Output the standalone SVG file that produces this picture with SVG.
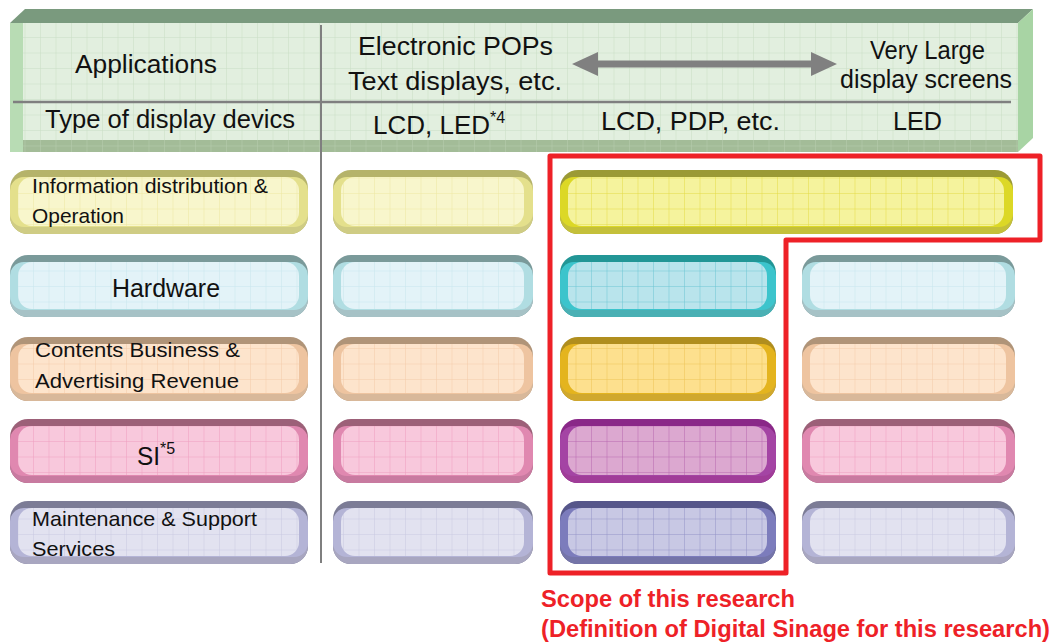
<svg xmlns="http://www.w3.org/2000/svg" width="1055" height="643" viewBox="0 0 1055 643">
<style>
text{font-family:"Liberation Sans",Arial,sans-serif;fill:#111}
.h{font-size:25px}
.n{font-size:21px}
.red{font-family:"Liberation Sans",Arial,sans-serif;font-weight:bold;font-size:23.5px;fill:#ee2127}
.r1L .t{fill:#b5b36a}.r1L .b{fill:#cfcc84}.r1L .s{fill:#e4e08c}
.r1S .t{fill:#9b9a35}.r1S .b{fill:#c4c03a}.r1S .s{fill:#dcd826}
.r2L .t{fill:#7a9a9a}.r2L .b{fill:#a6c2c6}.r2L .s{fill:#b0dde2}
.r2S .t{fill:#229696}.r2S .b{fill:#4ab0b4}.r2S .s{fill:#3cc4cc}
.r3L .t{fill:#b09478}.r3L .b{fill:#d8b89a}.r3L .s{fill:#eec4a0}
.r3S .t{fill:#b08e1e}.r3S .b{fill:#d0a82e}.r3S .s{fill:#e4b41e}
.r4L .t{fill:#9c6078}.r4L .b{fill:#c87aa0}.r4L .s{fill:#e088b0}
.r4S .t{fill:#8a2888}.r4S .b{fill:#a03c98}.r4S .s{fill:#a444a4}
.r5L .t{fill:#7c7c96}.r5L .b{fill:#a8a6c0}.r5L .s{fill:#b4b4d6}
.r5S .t{fill:#56568a}.r5S .b{fill:#7474a8}.r5S .s{fill:#7c7cbc}
</style>
<defs>
<pattern id="pH" patternUnits="userSpaceOnUse" x="9" y="6" width="15.5" height="15.5"><rect width="15.5" height="15.5" fill="#e2efdf"/><path d="M0 0V15.5M0 0H15.5" stroke="#c9dec5" stroke-width="1"/></pattern>
<pattern id="pHb" patternUnits="userSpaceOnUse" x="9" y="6" width="15.5" height="15.5"><rect width="15.5" height="15.5" fill="#a3bc98"/><path d="M0 0V15.5M0 0H15.5" stroke="#b8ceb0" stroke-width="1"/></pattern>
<pattern id="p1L" patternUnits="userSpaceOnUse" x="2" y="7" width="15.5" height="15.5"><rect width="15.5" height="15.5" fill="#f8f6cc"/><path d="M0 0V15.5M0 0H15.5" stroke="#eee8a2" stroke-width="1"/></pattern>
<pattern id="p1S" patternUnits="userSpaceOnUse" x="2" y="7" width="15.5" height="15.5"><rect width="15.5" height="15.5" fill="#f5f39d"/><path d="M0 0V15.5M0 0H15.5" stroke="#e4dc45" stroke-width="1"/></pattern>
<pattern id="p2L" patternUnits="userSpaceOnUse" x="2" y="7" width="15.5" height="15.5"><rect width="15.5" height="15.5" fill="#e3f3f8"/><path d="M0 0V15.5M0 0H15.5" stroke="#c8e6ee" stroke-width="1"/></pattern>
<pattern id="p2S" patternUnits="userSpaceOnUse" x="2" y="7" width="15.5" height="15.5"><rect width="15.5" height="15.5" fill="#b9e4ec"/><path d="M0 0V15.5M0 0H15.5" stroke="#6cc6d4" stroke-width="1"/></pattern>
<pattern id="p3L" patternUnits="userSpaceOnUse" x="2" y="7" width="15.5" height="15.5"><rect width="15.5" height="15.5" fill="#fde4cc"/><path d="M0 0V15.5M0 0H15.5" stroke="#f4ccaa" stroke-width="1"/></pattern>
<pattern id="p3S" patternUnits="userSpaceOnUse" x="2" y="7" width="15.5" height="15.5"><rect width="15.5" height="15.5" fill="#fde08e"/><path d="M0 0V15.5M0 0H15.5" stroke="#eec456" stroke-width="1"/></pattern>
<pattern id="p4L" patternUnits="userSpaceOnUse" x="2" y="7" width="15.5" height="15.5"><rect width="15.5" height="15.5" fill="#f8c8dc"/><path d="M0 0V15.5M0 0H15.5" stroke="#ef9ec0" stroke-width="1"/></pattern>
<pattern id="p4S" patternUnits="userSpaceOnUse" x="2" y="7" width="15.5" height="15.5"><rect width="15.5" height="15.5" fill="#dca8d0"/><path d="M0 0V15.5M0 0H15.5" stroke="#b866b0" stroke-width="1"/></pattern>
<pattern id="p5L" patternUnits="userSpaceOnUse" x="2" y="7" width="15.5" height="15.5"><rect width="15.5" height="15.5" fill="#e2e2f0"/><path d="M0 0V15.5M0 0H15.5" stroke="#cacae2" stroke-width="1"/></pattern>
<pattern id="p5S" patternUnits="userSpaceOnUse" x="2" y="7" width="15.5" height="15.5"><rect width="15.5" height="15.5" fill="#c8c8e4"/><path d="M0 0V15.5M0 0H15.5" stroke="#9494c8" stroke-width="1"/></pattern>
</defs>

<g id="header">
<polygon points="10,23 25,9 1033,9 1018,23" fill="#7a9a7e"/>
<polygon points="1018,23 1033,9 1033,138 1018,152" fill="#a8d4a4"/>
<rect x="10" y="140" width="1008" height="12" fill="url(#pHb)"/>
<rect x="23" y="23" width="995" height="117" fill="url(#pH)"/>
<rect x="10" y="23" width="13" height="129" fill="#b8dcb4"/>
<line x1="13" y1="102" x2="1011" y2="102" stroke="#7f7f7f" stroke-width="2.5"/>
<text class="h" x="75" y="73" textLength="142" lengthAdjust="spacingAndGlyphs">Applications</text>
<text class="h" x="45" y="128" textLength="250" lengthAdjust="spacingAndGlyphs">Type of display devics</text>
<text class="h" x="358" y="55" textLength="195" lengthAdjust="spacingAndGlyphs">Electronic POPs</text>
<text class="h" x="348" y="90" textLength="214" lengthAdjust="spacingAndGlyphs">Text displays, etc.</text>
<text class="h" x="870" y="59" textLength="115" lengthAdjust="spacingAndGlyphs">Very Large</text>
<text class="h" x="840" y="88" textLength="172" lengthAdjust="spacingAndGlyphs">display screens</text>
<text class="h" x="373" y="134"><tspan textLength="117" lengthAdjust="spacingAndGlyphs">LCD, LED</tspan><tspan font-size="16" dy="-11">*4</tspan></text>
<text class="h" x="601" y="130" textLength="179" lengthAdjust="spacingAndGlyphs">LCD, PDP, etc.</text>
<text class="h" x="893" y="130" textLength="49" lengthAdjust="spacingAndGlyphs">LED</text>
</g>

<g id="connectors">
<line x1="321" y1="25" x2="321" y2="563" stroke="#7f7f7f" stroke-width="2"/>
<polygon points="572,64 598,52 598,60.5 811,60.5 811,52 837,64 811,76 811,67.5 598,67.5 598,76" fill="#808080"/>
</g>

<!-- Row 1 -->
<g id="r1c0" class="r1L">
<rect class="t" x="10" y="170" width="298" height="64" rx="18"/>
<rect class="b" x="10" y="177" width="298" height="57" rx="18"/>
<rect class="s" x="10" y="177" width="298" height="50" rx="14"/>
<rect x="18" y="177" width="281" height="49" rx="14" fill="url(#p1L)"/>
<text class="n" x="32" y="193" textLength="236" lengthAdjust="spacingAndGlyphs">Information distribution &amp;</text>
<text class="n" x="32" y="223" textLength="92" lengthAdjust="spacingAndGlyphs">Operation</text>
</g>
<g id="r1c1" class="r1L">
<rect class="t" x="333" y="170" width="200" height="64" rx="18"/>
<rect class="b" x="333" y="177" width="200" height="57" rx="18"/>
<rect class="s" x="333" y="177" width="200" height="50" rx="14"/>
<rect x="341" y="177" width="183" height="49" rx="14" fill="url(#p1L)"/>
</g>
<g id="r1c2" class="r1S">
<rect class="t" x="560" y="170" width="453" height="64" rx="18"/>
<rect class="b" x="560" y="177" width="453" height="57" rx="18"/>
<rect class="s" x="560" y="177" width="453" height="50" rx="14"/>
<rect x="568" y="177" width="436" height="49" rx="14" fill="url(#p1S)"/>
</g>

<!-- Row 2 -->
<g id="r2c0" class="r2L">
<rect class="t" x="10" y="255" width="298" height="62" rx="18"/>
<rect class="b" x="10" y="262" width="298" height="55" rx="18"/>
<rect class="s" x="10" y="262" width="298" height="48" rx="14"/>
<rect x="18" y="262" width="281" height="47" rx="14" fill="url(#p2L)"/>
<text class="h" x="112" y="297" textLength="108" lengthAdjust="spacingAndGlyphs">Hardware</text>
</g>
<g id="r2c1" class="r2L">
<rect class="t" x="333" y="255" width="200" height="62" rx="18"/>
<rect class="b" x="333" y="262" width="200" height="55" rx="18"/>
<rect class="s" x="333" y="262" width="200" height="48" rx="14"/>
<rect x="341" y="262" width="183" height="47" rx="14" fill="url(#p2L)"/>
</g>
<g id="r2c2" class="r2S">
<rect class="t" x="560" y="255" width="216" height="62" rx="18"/>
<rect class="b" x="560" y="262" width="216" height="55" rx="18"/>
<rect class="s" x="560" y="262" width="216" height="48" rx="14"/>
<rect x="568" y="262" width="199" height="47" rx="14" fill="url(#p2S)"/>
</g>
<g id="r2c3" class="r2L">
<rect class="t" x="802" y="255" width="213" height="62" rx="18"/>
<rect class="b" x="802" y="262" width="213" height="55" rx="18"/>
<rect class="s" x="802" y="262" width="213" height="48" rx="14"/>
<rect x="810" y="262" width="196" height="47" rx="14" fill="url(#p2L)"/>
</g>

<!-- Row 3 -->
<g id="r3c0" class="r3L">
<rect class="t" x="10" y="337" width="298" height="64" rx="18"/>
<rect class="b" x="10" y="344" width="298" height="57" rx="18"/>
<rect class="s" x="10" y="344" width="298" height="50" rx="14"/>
<rect x="18" y="344" width="281" height="49" rx="14" fill="url(#p3L)"/>
<text class="n" x="35" y="357" textLength="205" lengthAdjust="spacingAndGlyphs">Contents Business &amp;</text>
<text class="n" x="35" y="388" textLength="204" lengthAdjust="spacingAndGlyphs">Advertising Revenue</text>
</g>
<g id="r3c1" class="r3L">
<rect class="t" x="333" y="337" width="200" height="64" rx="18"/>
<rect class="b" x="333" y="344" width="200" height="57" rx="18"/>
<rect class="s" x="333" y="344" width="200" height="50" rx="14"/>
<rect x="341" y="344" width="183" height="49" rx="14" fill="url(#p3L)"/>
</g>
<g id="r3c2" class="r3S">
<rect class="t" x="560" y="337" width="216" height="64" rx="18"/>
<rect class="b" x="560" y="344" width="216" height="57" rx="18"/>
<rect class="s" x="560" y="344" width="216" height="50" rx="14"/>
<rect x="568" y="344" width="199" height="49" rx="14" fill="url(#p3S)"/>
</g>
<g id="r3c3" class="r3L">
<rect class="t" x="802" y="337" width="213" height="64" rx="18"/>
<rect class="b" x="802" y="344" width="213" height="57" rx="18"/>
<rect class="s" x="802" y="344" width="213" height="50" rx="14"/>
<rect x="810" y="344" width="196" height="49" rx="14" fill="url(#p3L)"/>
</g>

<!-- Row 4 -->
<g id="r4c0" class="r4L">
<rect class="t" x="10" y="419" width="298" height="64" rx="18"/>
<rect class="b" x="10" y="426" width="298" height="57" rx="18"/>
<rect class="s" x="10" y="426" width="298" height="50" rx="14"/>
<rect x="18" y="426" width="281" height="49" rx="14" fill="url(#p4L)"/>
<text class="h" x="137" y="465"><tspan textLength="23" lengthAdjust="spacingAndGlyphs">SI</tspan><tspan font-size="16" dy="-11">*5</tspan></text>
</g>
<g id="r4c1" class="r4L">
<rect class="t" x="333" y="419" width="200" height="64" rx="18"/>
<rect class="b" x="333" y="426" width="200" height="57" rx="18"/>
<rect class="s" x="333" y="426" width="200" height="50" rx="14"/>
<rect x="341" y="426" width="183" height="49" rx="14" fill="url(#p4L)"/>
</g>
<g id="r4c2" class="r4S">
<rect class="t" x="560" y="419" width="216" height="64" rx="18"/>
<rect class="b" x="560" y="426" width="216" height="57" rx="18"/>
<rect class="s" x="560" y="426" width="216" height="50" rx="14"/>
<rect x="568" y="426" width="199" height="49" rx="14" fill="url(#p4S)"/>
</g>
<g id="r4c3" class="r4L">
<rect class="t" x="802" y="419" width="213" height="64" rx="18"/>
<rect class="b" x="802" y="426" width="213" height="57" rx="18"/>
<rect class="s" x="802" y="426" width="213" height="50" rx="14"/>
<rect x="810" y="426" width="196" height="49" rx="14" fill="url(#p4L)"/>
</g>

<!-- Row 5 -->
<g id="r5c0" class="r5L">
<rect class="t" x="10" y="501" width="298" height="63" rx="18"/>
<rect class="b" x="10" y="508" width="298" height="56" rx="18"/>
<rect class="s" x="10" y="508" width="298" height="49" rx="14"/>
<rect x="18" y="508" width="281" height="48" rx="14" fill="url(#p5L)"/>
<text class="n" x="32" y="526" textLength="225" lengthAdjust="spacingAndGlyphs">Maintenance &amp; Support</text>
<text class="n" x="32" y="556" textLength="83" lengthAdjust="spacingAndGlyphs">Services</text>
</g>
<g id="r5c1" class="r5L">
<rect class="t" x="333" y="501" width="200" height="63" rx="18"/>
<rect class="b" x="333" y="508" width="200" height="56" rx="18"/>
<rect class="s" x="333" y="508" width="200" height="49" rx="14"/>
<rect x="341" y="508" width="183" height="48" rx="14" fill="url(#p5L)"/>
</g>
<g id="r5c2" class="r5S">
<rect class="t" x="560" y="501" width="216" height="63" rx="18"/>
<rect class="b" x="560" y="508" width="216" height="56" rx="18"/>
<rect class="s" x="560" y="508" width="216" height="49" rx="14"/>
<rect x="568" y="508" width="199" height="48" rx="14" fill="url(#p5S)"/>
</g>
<g id="r5c3" class="r5L">
<rect class="t" x="802" y="501" width="213" height="63" rx="18"/>
<rect class="b" x="802" y="508" width="213" height="56" rx="18"/>
<rect class="s" x="802" y="508" width="213" height="49" rx="14"/>
<rect x="810" y="508" width="196" height="48" rx="14" fill="url(#p5L)"/>
</g>

<g id="scope">
<path d="M550,156 H1040 V240 H786 V573 H550 Z" fill="none" stroke="#ee2127" stroke-width="5" stroke-linejoin="round"/>
<text class="red" x="541" y="607" textLength="254" lengthAdjust="spacingAndGlyphs">Scope of this research</text>
<text class="red" x="541" y="637" textLength="509" lengthAdjust="spacingAndGlyphs">(Definition of Digital Sinage for this research)</text>
</g>
</svg>
